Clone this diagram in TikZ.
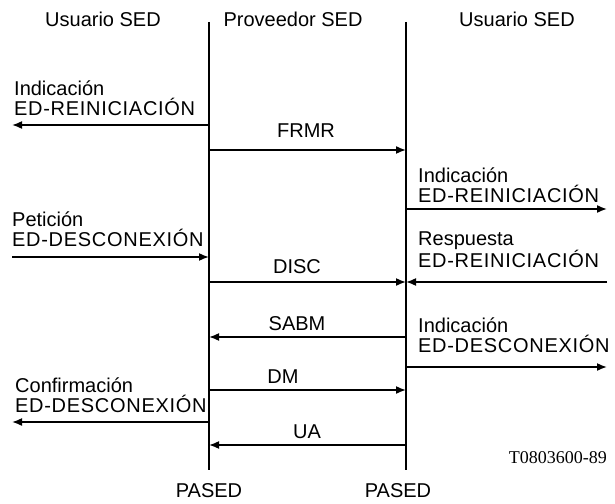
\documentclass[tikz,border=0pt]{standalone}
\usepackage{fontspec}
\setmainfont{Liberation Sans}
\newfontfamily\refserif{Liberation Serif}
\newfontfamily\widecaps[LetterSpace=3.5]{Liberation Sans}
\usetikzlibrary{arrows.meta}
\tikzset{
  lifeline/.style={line width=1.6bp},
  msg/.style={line width=1.6bp,-{Latex[length=10bp,width=8bp]}},
  lbl/.style={inner sep=0pt,font=\fontsize{20bp}{20bp}\selectfont},
  prim/.style={lbl,align=left,anchor=south west},
}

\begin{document}
\begin{tikzpicture}[x=1bp,y=-1bp]
\useasboundingbox (0,0) rectangle (615,504);
\coordinate (ltop) at (209,22);
\coordinate (lbot) at (209,470);
\coordinate (rtop) at (406,22);
\coordinate (rbot) at (406,470);
\draw [lifeline] (ltop) -- (lbot);
\draw [lifeline] (rtop) -- (rbot);
\node [lbl,anchor=base] (usrl) at (103,27) {Usuario SED};
\node [lbl,anchor=base] (prov) at (293,27) {Proveedor SED};
\node [lbl,anchor=base] (usrr) at (517,27) {Usuario SED};
\node [lbl,anchor=base] (pasl) at (209,497) {PASED};
\node [lbl,anchor=base] (pasr) at (398,497) {PASED};
\node [lbl,anchor=base east,font=\refserif\fontsize{18bp}{18bp}\selectfont] (ref) at (607,463) {T0803600-89};
% primitives
\coordinate (indL) at (209,125);
\coordinate (indLe) at (12,125);
\node [prim] (indLt) at (14,116) {Indicación\\{\widecaps ED-REINICIACIÓN}};
\draw [msg] (indL) -- (indLe);
\coordinate (indR) at (406,209);
\coordinate (indRe) at (607,209);
\node [prim] (indRt) at (418,203) {Indicación\\{\widecaps ED-REINICIACIÓN}};
\draw [msg] (indR) -- (indRe);
\coordinate (petL) at (209,257);
\coordinate (petLs) at (12,257);
\node [prim] (petLt) at (12,247) {Petición\\{\widecaps ED-DESCONEXIÓN}};
\draw [msg] (petLs) -- (petL);
\coordinate (resR) at (406,282);
\coordinate (resRs) at (607,282);
\node [prim] (resRt) at (418,268) {Respuesta\\{\widecaps ED-REINICIACIÓN}};
\draw [msg] (resRs) -- (resR);
\coordinate (dinR) at (406,367);
\coordinate (dinRe) at (607,367);
\node [prim] (dinRt) at (418,353) {Indicación\\{\widecaps ED-DESCONEXIÓN}};
\draw [msg] (dinR) -- (dinRe);
\coordinate (conL) at (209,422);
\coordinate (conLe) at (12,422);
\node [prim] (conLt) at (15,413) {Confirmación\\{\widecaps ED-DESCONEXIÓN}};
\draw [msg] (conL) -- (conLe);
% frames
\coordinate (frmrL) at (209,150);
\coordinate (frmrR) at (406,150);
\node [lbl,anchor=base] (frmr) at (306,138) {FRMR};
\draw [msg] (frmrL) -- (frmrR);
\coordinate (discL) at (209,282);
\coordinate (discR) at (406,282);
\node [lbl,anchor=base] (disc) at (297,273) {DISC};
\draw [msg] (discL) -- (discR);
\coordinate (sabmL) at (209,337);
\coordinate (sabmR) at (406,337);
\node [lbl,anchor=base] (sabm) at (297,330) {SABM};
\draw [msg] (sabmR) -- (sabmL);
\coordinate (dmL) at (209,390);
\coordinate (dmR) at (406,390);
\node [lbl,anchor=base] (dm) at (283,383) {DM};
\draw [msg] (dmL) -- (dmR);
\coordinate (uaL) at (209,445);
\coordinate (uaR) at (406,445);
\node [lbl,anchor=base] (ua) at (307,438) {UA};
\draw [msg] (uaR) -- (uaL);
\end{tikzpicture}
\end{document}
